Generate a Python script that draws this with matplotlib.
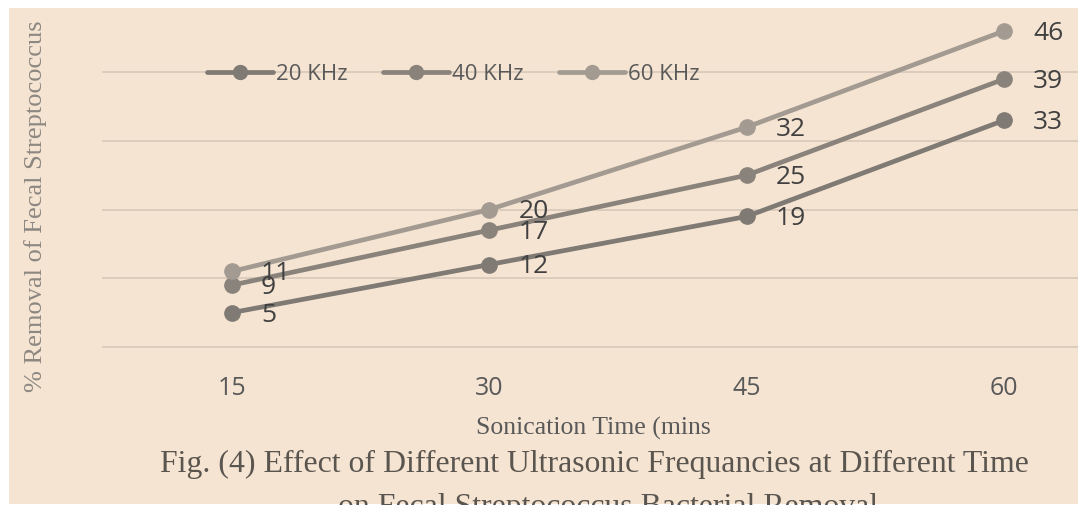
import matplotlib
matplotlib.use("Agg")
import matplotlib.pyplot as plt
from matplotlib.patches import Rectangle

# data
times = ["15", "30", "45", "60"]
khz_20 = [5, 12, 19, 33]
khz_40 = [9, 17, 25, 39]
khz_60 = [11, 20, 32, 46]
series_names = ["20 KHz", "40 KHz", "60 KHz"]
series_colors = ["#7f7a73", "#89837b", "#a39b92"]

bg = "#f5e4d2"
sans = ["Open Sans", "DejaVu Sans"]
serif = ["Liberation Serif", "DejaVu Serif"]

fig = plt.figure(figsize=(10.78, 5.06), dpi=100)
fig.patch.set_facecolor("white")
# beige page panel (white margin on left and top)
fig.add_artist(Rectangle((9 / 1078, 1 / 506), 1.0, (506 - 10) / 506,
                         transform=fig.transFigure, facecolor=bg,
                         edgecolor="none", zorder=-10))

ax = fig.add_axes([103 / 1078, 158 / 506, 1 - 103 / 1078, 343.5 / 506])
ax.set_facecolor("none")

x = list(range(len(times)))
all_series = [khz_20, khz_40, khz_60]
for vals, name, col in zip(all_series, series_names, series_colors):
    ax.plot(x, vals, color=col, lw=3.4, marker="o", ms=11, label=name,
            solid_capstyle="round", zorder=3)

for vals in all_series:
    for xi, v in zip(x, vals):
        ax.annotate(str(v), (xi, v), xytext=(21, -1), textcoords="offset points",
                    ha="left", va="center", fontsize=19, color="#404040",
                    family=sans, zorder=5)

ax.set_xlim(-0.5, 3.287)
ax.set_ylim(0, 50)
ax.set_yticks([0, 10, 20, 30, 40])
ax.set_yticklabels([])
ax.set_xticks(x)
ax.set_xticklabels(times, fontsize=18, color="#595959", family=sans)
ax.tick_params(axis="both", length=0)
ax.tick_params(axis="x", pad=20)
ax.grid(axis="y", color="#d6c8bb", lw=1.2)
for gl in ax.get_ygridlines():
    gl.set_clip_on(False)
ax.set_axisbelow(True)
for s in ax.spines.values():
    s.set_visible(False)

leg = fig.legend(loc="center", bbox_to_anchor=(453 / 1078, 1 - 75 / 506),
                 ncol=3, frameon=False, handlelength=3.0, handletextpad=0.1,
                 columnspacing=1.6, prop={"family": sans, "size": 16})
for t in leg.get_texts():
    t.set_color("#595959")
for h in leg.legend_handles:
    h.set_markersize(10)

fig.text(593 / 1078, 1 - 428 / 506, "Sonication Time (mins", ha="center",
         va="center", fontsize=18.5, color="#595959", family=serif)
fig.text(36 / 1078, 1 - 206 / 506, "% Removal of Fecal Streptococcus",
         rotation=90, ha="center", va="center", fontsize=19,
         color="#8c8781", family=serif)
fig.text(594 / 1078, 1 - 472 / 506,
         "Fig. (4) Effect of Different Ultrasonic Frequancies at Different Time",
         ha="center", va="baseline", fontsize=22.9, color="#5a554f", family=serif)
fig.text(608 / 1078, 1 - 515 / 506, "on Fecal Streptococcus Bacterial Removal",
         ha="center", va="baseline", fontsize=22.9, color="#5a554f", family=serif)

fig.savefig("out.png", dpi=100)
